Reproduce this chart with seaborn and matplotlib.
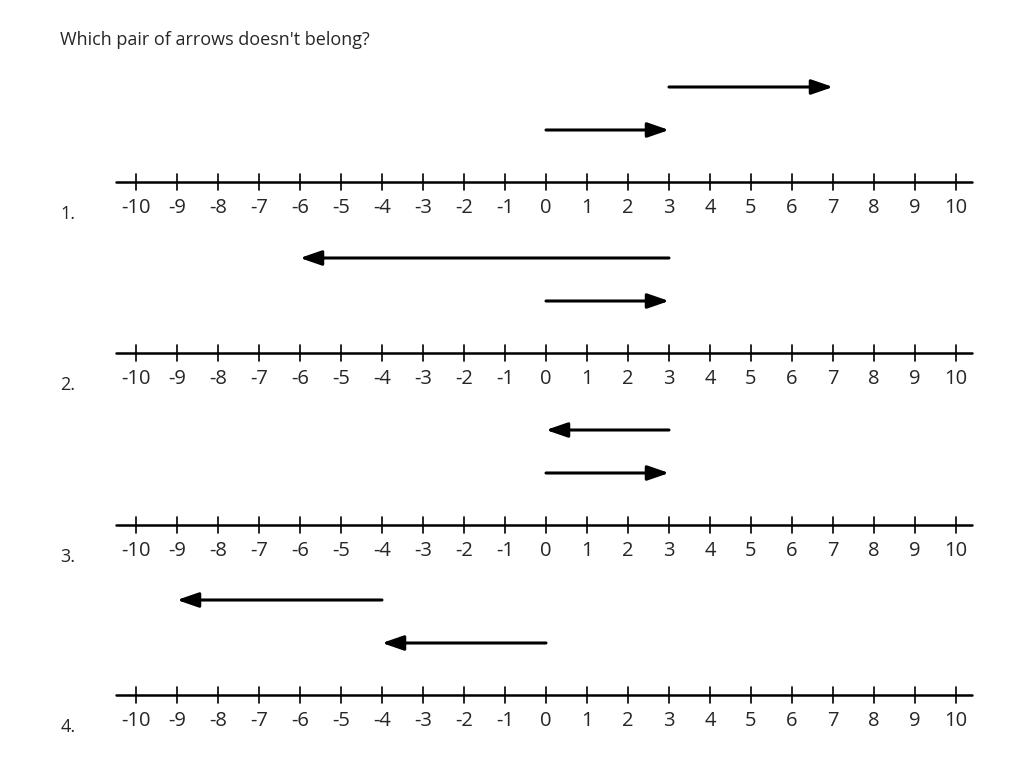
import numpy as np
import pandas as pd
import seaborn as sns
import matplotlib.pyplot as plt

# Arrow data per problem: (start, end) for the upper and lower arrow
problems = ["1.", "2.", "3.", "4."]
upper_start = [3, 3, 3, -4]
upper_end = [7, -6, 0, -9]
lower_start = [0, 0, 0, 0]
lower_end = [3, 3, 3, -4]
tick_values = list(range(-10, 11))

sns.set_style("white")
plt.rcParams['font.family'] = ['Open Sans', 'DejaVu Sans']

fig = plt.figure(figsize=(10.24, 7.68), dpi=100)
ax = fig.add_axes([0, 0, 1, 1])
# x in number-line units, y in pixels from top
ax.set_xlim((0 - 136) / 41 - 10, (1024 - 136) / 41 - 10)
ax.set_ylim(768, 0)
ax.axis("off")

line_y = [182, 353, 525, 695]

ax.text(-13.317 + 60 / 41, 40, "Which pair of arrows doesn't belong?", fontsize=13,
        va="center", ha="left")

for i, name in enumerate(problems):
    y0 = line_y[i]
    base = pd.DataFrame({"x": [-10.49, 10.39], "y": [y0, y0]})
    sns.lineplot(data=base, x="x", y="y", ax=ax, color="black", linewidth=1.8)
    for t in tick_values:
        ax.plot([t, t], [y0 - 8, y0 + 8], color="black", linewidth=1.2)
        ax.text(t, y0 + 26, str(t), ha="center", va="center", fontsize=14.5)
    ax.text(-13.317 + 68 / 41, y0 + 32, name, ha="center", va="center", fontsize=13)

    for s, e, yy in [(upper_start[i], upper_end[i], y0 - 95),
                     (lower_start[i], lower_end[i], y0 - 52)]:
        ax.annotate("", xy=(e, yy), xytext=(s, yy),
                    arrowprops=dict(arrowstyle="-|>,head_length=1.3,head_width=0.45",
                                    color="black", linewidth=2.2,
                                    shrinkA=0, shrinkB=0))

fig.savefig("out.png", dpi=100)
